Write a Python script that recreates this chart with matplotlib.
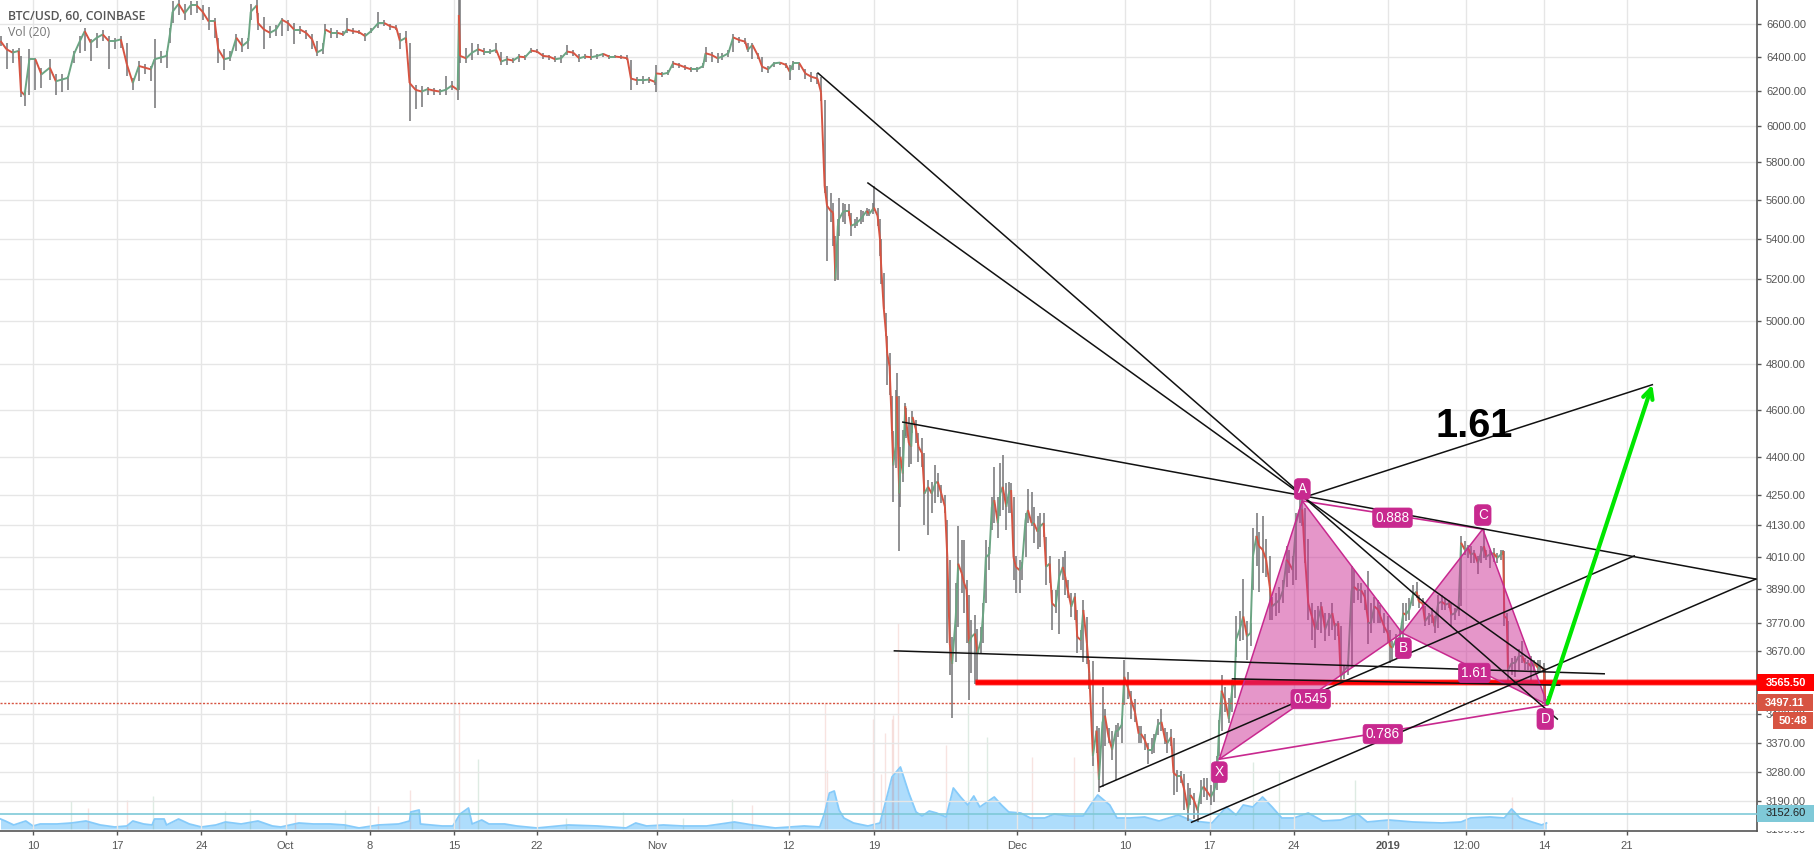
import numpy as np
import matplotlib
matplotlib.use("Agg")
import matplotlib.pyplot as plt
from matplotlib.collections import LineCollection
from matplotlib.patches import Rectangle
from matplotlib.transforms import Bbox
from matplotlib.ticker import NullLocator

W, H = 1814, 856
# ---------- price series: day offset from 10 Sep 2018, close, high, low ----------
days_sep = [-2.7,-2.2,-1.7,-1.2,-1.0,-0.7,-0.3,0.2,0.7,1.4,1.9,2.4,2.9,3.4,3.9,4.3,4.8,5.3,5.8,6.3,6.8,7.3,7.8,8.3,8.8,9.3,9.8,10.1,10.6,11.1,11.4,11.6,12.1,12.6,13.1,13.6,14.1,14.6,15.1,15.4,15.9,16.4,16.9,17.4,17.9,18.1,18.6,18.7,19.2,19.7,20.2,20.7,21.2,21.7,22.2,22.7,23.2,23.6,24.1,24.3,24.8,25.3,25.8,26.1,26.6,27.1,27.6,28.1,28.7,29.2,29.7,30.2,30.5,31.0,31.3,31.8,32.3,32.8,33.3,33.8,34.3,34.8,35.3,35.4,35.5]
close_sep = [6496,6446,6426,6436,6196,6176,6386,6386,6296,6336,6256,6266,6276,6416,6496,6556,6486,6516,6536,6496,6496,6506,6356,6246,6346,6336,6326,6386,6396,6406,6546,6676,6726,6666,6716,6716,6676,6616,6616,6446,6386,6396,6516,6466,6496,6676,6716,6606,6566,6546,6566,6626,6606,6566,6566,6546,6506,6426,6446,6566,6546,6546,6536,6566,6556,6550,6526,6556,6606,6606,6586,6576,6496,6516,6246,6206,6196,6210,6202,6196,6206,6230,6206,6656,6406]
high_sep = [6526,6486,6446,6456,6406,6196,6446,6396,6336,6386,6296,6296,6286,6436,6526,6576,6506,6546,6562,6526,6516,6526,6486,6276,6376,6356,6346,6510,6436,6436,6576,6746,6750,6726,6746,6746,6716,6706,6636,6516,6446,6436,6536,6516,6516,6726,6750,6666,6646,6586,6596,6636,6626,6606,6586,6566,6536,6496,6486,6600,6576,6566,6556,6636,6576,6566,6546,6576,6676,6626,6602,6596,6546,6556,6486,6236,6230,6222,6216,6210,6286,6256,6236,6750,6750]
low_sep = [6466,6326,6366,6386,6166,6110,6176,6206,6216,6266,6176,6196,6206,6366,6426,6436,6376,6456,6496,6326,6446,6456,6286,6206,6256,6296,6256,6102,6366,6336,6486,6606,6656,6626,6656,6666,6626,6566,6516,6366,6322,6376,6436,6430,6446,6626,6666,6566,6450,6516,6526,6526,6556,6476,6536,6506,6446,6406,6416,6536,6516,6516,6526,6546,6536,6536,6496,6546,6576,6586,6566,6566,6446,6486,6026,6096,6106,6176,6176,6176,6176,6206,6146,6206,6366]

days_oct = [36.0,36.5,37.0,37.5,38.0,38.5,38.9,39.4,39.9,40.4,40.9,41.4,41.9,42.4,42.9,43.4,43.9,44.4,44.9,45.4,45.9,46.4,46.9,47.4,47.9,48.4,48.9,49.4,49.7,50.2,50.7,51.2,51.7,51.8,52.3,52.8,53.2,53.7,54.2,54.7,55.2,55.7,55.9,56.4,56.9,57.3,57.8,58.2,58.7,59.2,59.4,59.8,60.3,60.6,61.1,61.6,62.1,62.6,62.9,63.2,63.7,64.2,64.7,65.2,65.5]
close_oct = [6392,6426,6446,6432,6432,6442,6372,6386,6378,6402,6398,6438,6432,6406,6402,6386,6392,6432,6426,6392,6402,6398,6406,6418,6402,6402,6398,6392,6272,6262,6262,6266,6252,6302,6298,6306,6362,6352,6338,6326,6326,6346,6422,6412,6392,6402,6422,6518,6502,6492,6442,6472,6402,6342,6326,6362,6366,6352,6312,6362,6362,6302,6282,6272,6192]
high_oct = [6452,6482,6478,6452,6446,6486,6432,6406,6392,6418,6412,6452,6446,6422,6412,6406,6412,6472,6442,6418,6418,6446,6418,6426,6414,6412,6410,6412,6382,6282,6286,6282,6266,6352,6312,6322,6378,6366,6352,6342,6342,6362,6458,6432,6422,6422,6442,6538,6522,6512,6486,6486,6422,6398,6346,6372,6372,6362,6352,6378,6372,6326,6312,6302,6282]
low_oct = [6362,6382,6412,6412,6418,6422,6352,6352,6362,6372,6382,6422,6422,6386,6382,6372,6362,6412,6406,6372,6386,6382,6386,6398,6390,6394,6386,6382,6206,6232,6242,6246,6232,6192,6282,6292,6332,6332,6322,6312,6312,6332,6372,6372,6366,6382,6402,6432,6486,6478,6432,6386,6386,6312,6302,6342,6352,6332,6266,6322,6322,6272,6252,6242,6142]

days_nov = [65.8,66.0,66.3,66.5,66.7,66.9,67.0,67.3,67.5,67.8,68.0,68.3,68.5,68.8,69.0,69.3,69.5,69.8,69.9,70.2,70.4,70.5,70.7,70.9,71.0,71.2,71.4,71.5,71.7,71.8,72.0,72.1,72.3,72.5,72.6,72.8,73.0,73.1,73.4]
close_nov = [5672,5568,5542,5533,5197,5465,5499,5533,5542,5542,5465,5473,5482,5499,5516,5542,5525,5550,5559,5516,5397,5263,5070,4944,4851,4790,4510,4368,4445,4659,4254,4403,4335,4616,4545,4460,4445,4570,4515]
high_nov = [6150,5672,5637,5585,5414,5499,5610,5585,5576,5576,5533,5499,5508,5547,5542,5559,5550,5585,5672,5559,5499,5397,5230,5038,4929,4851,4659,4510,4688,4761,4659,4445,4516,4630,4610,4570,4545,4595,4558]
low_nov = [5637,5288,5482,5363,5189,5197,5414,5482,5473,5516,5414,5456,5465,5473,5482,5516,5516,5525,5542,5465,5313,5173,5054,4929,4708,4667,4510,4220,4355,4587,4033,4202,4300,4490,4480,4360,4375,4500,4460]

days_late = [73.6,73.9,74.1,74.4,74.7,75.0,75.2,75.5,75.8,76.0,76.2,76.4,76.7,76.9,77.2,77.4,77.6,77.8,78.0,78.3,78.5,78.8,79.0,79.2,79.5,79.7,79.9,80.2,80.4,80.6,80.9,81.1,81.3,81.5,81.7,82.0,82.2,82.5,82.7,83.0,83.2,83.5,83.7,84.0,84.2,84.5,84.7,85.0,85.3,85.6,85.8,86.0,86.3,86.6,86.8,87.1,87.3,87.6,87.8]
close_late = [4445,4417,4254,4281,4254,4295,4302,4254,4202,4008,3698,3628,3790,3984,3948,3912,3888,3698,3720,3732,3663,3709,3815,4008,4020,4202,4228,4138,4254,4281,4202,4254,4268,4008,3972,3960,3972,4151,4189,4138,4138,4105,4125,4138,3972,3984,3839,3827,3936,3972,3936,3888,3827,3863,3720,3709,3815,3698,3595]
high_late = [4502,4480,4417,4308,4302,4369,4335,4288,4247,4151,3996,3720,3912,4125,4073,4073,3924,3870,3778,3797,3749,3755,3839,4073,4047,4241,4362,4241,4376,4410,4295,4302,4295,4241,4014,3996,3990,4177,4274,4261,4202,4164,4177,4177,4086,4014,3888,3888,4000,4008,4032,3924,3875,3875,3815,3744,3851,3791,3640]
low_late = [4382,4362,4131,4092,4176,4215,4241,4215,4176,3698,3589,3450,3634,3755,3875,3803,3698,3507,3595,3560,3572,3663,3698,3839,3960,4112,4138,4079,4164,4189,4112,4176,4176,3924,3875,3875,3924,4008,4138,4125,4060,4040,4047,4086,3906,3912,3744,3803,3732,3924,3870,3857,3791,3778,3663,3675,3635,3628,3543]

days_dec = [88.1,88.4,88.6,88.9,89.1,89.4,89.7,90.0,90.2,90.5,90.7,91.0,91.3,91.6,91.9,92.1,92.4,92.7,93.0,93.2,93.5,93.8,94.1,94.3,94.6,94.8,95.1,95.4,95.7,96.0,96.2,96.5,96.8,97.1,97.3,97.6,97.9,98.2,98.4,98.6,98.8,99.1,99.4,99.7,99.9,100.0,100.3,100.6,100.9,101.2,101.4,101.7,101.9,102.2,102.5,102.8,103.0,103.3,103.6,103.9,104.2,104.4,104.7,105.0,105.3,105.5,105.7,106.0,106.3,106.6,106.8,107.1,107.4,107.7,108.0,108.2,108.5,108.7,109.0,109.3,109.6,109.8,110.1,110.4,110.7,111.0,111.2,111.5,111.8,112.0,112.3,112.6]
close_dec = [3328,3408,3255,3436,3456,3388,3348,3408,3408,3427,3584,3549,3504,3467,3398,3398,3379,3348,3348,3369,3427,3436,3379,3369,3388,3276,3266,3266,3224,3163,3209,3193,3163,3224,3234,3219,3203,3224,3255,3427,3538,3504,3446,3549,3572,3711,3746,3792,3722,3734,4011,4089,4050,4037,3999,3899,3828,3839,3851,3886,3999,3986,3961,4140,4192,4192,4024,3839,3792,3746,3781,3828,3746,3781,3804,3757,3769,3584,3607,3619,3886,3899,3886,3886,3862,3769,3769,3828,3816,3792,3757,3734]
high_dec = [3636,3422,3417,3549,3478,3417,3408,3427,3432,3446,3642,3601,3538,3510,3422,3422,3398,3369,3384,3398,3446,3478,3417,3403,3413,3384,3286,3281,3271,3245,3229,3214,3173,3255,3260,3260,3240,3255,3328,3441,3589,3549,3515,3574,3578,3792,3810,3928,3775,3769,4120,4179,4102,4166,4076,4011,3862,3875,3899,3924,4050,4037,4011,4179,4231,4237,4198,4076,3839,3816,3828,3845,3804,3804,3839,3769,3775,3757,3619,3636,3974,3961,3911,3911,3886,3955,3839,3862,3851,3833,3804,3792]
low_dec = [3297,3338,3219,3234,3359,3369,3317,3255,3388,3369,3492,3510,3446,3436,3369,3369,3348,3302,3333,3338,3393,3408,3364,3338,3359,3209,3219,3245,3163,3133,3178,3138,3128,3183,3203,3193,3178,3188,3224,3328,3408,3467,3432,3467,3515,3652,3705,3711,3642,3688,3886,3974,3881,3949,3936,3781,3781,3792,3804,3839,3899,3949,3904,3924,4140,4127,3986,3781,3711,3682,3746,3734,3705,3722,3746,3711,3722,3572,3578,3590,3613,3839,3851,3839,3816,3694,3734,3769,3769,3769,3734,3699]

days_jan = [112.8,113.0,113.3,113.6,113.9,114.1,114.4,114.7,115.0,115.2,115.5,115.7,116.0,116.3,116.5,116.8,117.1,117.4,117.7,117.9,118.2,118.5,118.7,119.0,119.3,119.5,119.8,120.1,120.4,120.6,120.8,121.1,121.4,121.7,122.0,122.2,122.3,122.5,122.6,122.9,123.2,123.5,123.8,124.0,124.3,124.5,124.8,125.1,125.3,125.6,125.7,125.9]
close_jan = [3688,3683,3711,3717,3804,3798,3816,3869,3881,3845,3839,3775,3792,3798,3757,3839,3845,3834,3839,3798,3804,3828,4063,4037,4044,4018,4024,3986,4031,4050,4011,4018,4024,4005,4018,4031,3792,3786,3607,3630,3630,3654,3654,3630,3630,3619,3630,3613,3619,3607,3504,3509]
high_jan = [3746,3705,3729,3746,3839,3839,3857,3905,3917,3869,3857,3828,3804,3822,3792,3869,3869,3857,3851,3839,3822,3839,4089,4069,4056,4050,4037,4011,4050,4115,4037,4037,4044,4024,4037,4037,4031,3804,3775,3648,3654,3677,3705,3648,3642,3654,3642,3642,3642,3630,3613,3521]
low_jan = [3630,3642,3677,3688,3717,3775,3780,3828,3857,3822,3822,3757,3763,3769,3734,3752,3816,3816,3822,3757,3780,3792,3828,4018,4005,3986,3986,3946,3986,4005,3999,3968,3992,3986,3999,4018,3757,3763,3555,3589,3584,3607,3630,3607,3607,3555,3601,3601,3601,3504,3490,3492]

# ---------- volume moving average (arbitrary units) ----------
vol_days_a = [-2.7,-2.3,-1.6,-0.6,0,0.6,2.0,3.2,4.4,5.6,6.8,7.8,8.3,9.2,9.9,10.1,10.9,11.1,12.1,13.0,14.0,15.2,16.0,17.3,18.7,19.9,20.6,22.1,23.3,24.7,25.9,27.1,28.7,30.4,31.3,31.4,32.1,32.2,34.0,34.9,35.5,36.2,36.5,37.3,37.9,39.2,40.2,41.9,44.5,46.9,49.3,50.1,51.0,52.4,54.0,56.0,58.3,59.8,61.7,64.1]
vol_vals_a = [10,8,4,8,3,5,5,6,8,4,2,3,8,5,4,10,10,4,10,5,2,4,7,5,8,3,2,6,5,5,4,1,4,5,8,17,19,5,3,3,15,21,5,9,5,5,3,1,4,3,1,6,3,4,3,3,7,4,1,3]
vol_days_b = [65.4,65.8,66.2,66.6,67.0,67.4,68.2,69.4,70.4,70.8,71.4,72.1,72.8,73.4,73.9,74.5,75.1,75.9,76.5,77.1,77.7,78.2,78.7,79.3,79.9,80.5,81.1,82.1,82.9,84.1,84.9,86.1,87.3,87.9,88.5,89.5,90.1,91.2,92.4,93.6,95.2,96.4,98.0,99.2,100.0,100.6,101.4,102.2,103.0,103.8,104.8,106.0,107.2,108.7,110.1,110.9,112.7,114.7,117.1,118.7,119.5,121.1,122.3,122.9,123.6,124.6,125.4,125.8]
vol_vals_b = [2,16,36,38,19,11,6,3,6,24,52,62,36,17,13,18,16,12,41,32,24,33,22,27,32,24,17,16,11,11,15,13,13,24,34,24,11,11,12,8,14,8,6,22,14,24,22,32,22,11,11,16,8,9,15,7,9,7,6,7,11,12,11,20,11,7,4,6]
vol_up_days = [3.2,10.0,16.0,18.0,25.9,35.0,37.0,44.3,49.0,54.0,58.1,77.7,79.3,88.1,101.4,103.6,109.9]
vol_up_h = [28,33,18,20,19,129,70,11,17,11,30,124,92,72,67,59,49]
vol_dn_days = [4.6,7.8,21.8,28.7,31.3,35.4,59.8,65.8,66.0,69.8,70.5,70.8,71.4,71.5,71.9,75.9,83.0,86.5,122.9]
vol_dn_h = [21,29,16,23,39,126,24,126,59,110,55,96,110,114,206,84,72,72,32]

# ---------- axes values ----------
price_ticks = [6600,6400,6200,6000,5800,5600,5400,5200,5000,4800,4600,4400,4250,4130,4010,3890,3770,3670,3570,3460,3370,3280,3190]
hidden_price_labels = [3570]
date_pos = [0,7,14,21,28,35,41.9,51.9,62.8,69.9,81.8,90.8,97.8,104.8,112.6,119.1,125.6,132.5]
date_labels = ['10','17','24','Oct','8','15','22','Nov','12','19','Dec','10','17','24','2019','12:00','14','21']

# ---------- drawings ----------
trend_lines = [((65.25,6304),(105.7,4240)), ((69.4,5688),(105.7,4240)), ((72.3,4548),(143.2,3927)),
               ((105.7,4240),(134.6,4710)), ((71.6,3672),(130.6,3594)), ((99.7,3577),(126.9,3556)),
               ((88.7,3233),(133.1,4013)), ((96.3,3128),(143.2,3927)), ((105.6,4240),(125.6,3610)),
               ((105.6,4240),(126.7,3445))]
pat_x, pat_a, pat_b, pat_c, pat_d = (98.6,3318),(105.5,4225),(113.8,3734),(120.5,4115),(125.9,3491)
ratio_labels = [('0.888',113.0,4159),('0.545',106.2,3510),('0.786',112.2,3397),('1.61',119.8,3597)]
point_labels = [('A',105.5,4272),('C',120.5,4169),('B',113.9,3681),('X',98.6,3278),('D',125.7,3445)]

days = np.array(days_sep+days_oct+days_nov+days_late+days_dec+days_jan)
close = np.array(close_sep+close_oct+close_nov+close_late+close_dec+close_jan,float)
high = np.array(high_sep+high_oct+high_nov+high_late+high_dec+high_jan,float)
low = np.array(low_sep+low_oct+low_nov+low_late+low_dec+low_jan,float)

SANS = ['Liberation Sans','DejaVu Sans']
plt.rcParams['font.family'] = SANS
fig = plt.figure(figsize=(W/100,H/100),dpi=100,facecolor='white')
L,R,B,T = 0, 1757/W, 1-831/H, 1
axv = fig.add_axes([L,B,R-L,T-B],zorder=0)
ax = fig.add_axes([L,B,R-L,T-B],zorder=1)
ax.patch.set_alpha(0)

# volume pane
axv.set_xlim(-2.743,143.3); axv.set_ylim(-2,829)
axv.set_xticks([]); axv.set_yticks([])
for s in axv.spines.values(): s.set_visible(False)
vd = np.array(vol_days_a+vol_days_b); vv = np.array(vol_vals_a+vol_vals_b,float)
axv.vlines(vol_up_days,0,vol_up_h,color='#6ba583',alpha=.22,lw=1)
axv.vlines(vol_dn_days,0,vol_dn_h,color='#d75442',alpha=.16,lw=1)
axv.fill_between(vd,0,vv,color='#8fd0fb',alpha=.72,lw=0)
axv.plot(vd,vv,color='#86cbfa',lw=1.3)

# price pane
ax.set_yscale('log')
ax.set_xlim(-2.743,143.3); ax.set_ylim(3102.5,6750)
ax.yaxis.tick_right()
ax.set_yticks(price_ticks)
ax.set_yticklabels(['' if p in hidden_price_labels else f'{p:.2f}' for p in price_ticks],fontsize=8,color='#555555')
ax.yaxis.set_minor_locator(NullLocator())
ax.set_xticks(date_pos)
ax.set_xticklabels(date_labels,fontsize=8,color='#555555')
for t,l in zip(ax.get_xticklabels(),date_labels):
    if l=='2019': t.set_fontweight('bold')
ax.tick_params(axis='y',length=3,width=1,color='#555555',pad=3.5)
ax.tick_params(axis='x',length=3,width=1,color='#555555',pad=4.5)
ax.grid(True,color='#e6e6e6',lw=1)
ax.set_axisbelow(True)
for k in ['left','top']: ax.spines[k].set_visible(False)
for k in ['right','bottom']:
    ax.spines[k].set_color('#555555'); ax.spines[k].set_linewidth(1.2)
clip = Bbox([[1758,0],[W,H-831]])
t = ax.text(1766/1757,3106,'3106.00',transform=ax.get_yaxis_transform(),va='center',ha='left',fontsize=8,color='#555555')
t.set_clip_box(clip); t.set_clip_on(True)

# candles
ax.vlines(days,low,high,color='#737375',lw=1.1,zorder=2)
pts = np.column_stack([days,close]).reshape(-1,1,2)
segs = np.concatenate([pts[:-1],pts[1:]],axis=1)
cols = ['#6ba583' if c1>=c0 else '#d75442' for c0,c1 in zip(close[:-1],close[1:])]
ax.add_collection(LineCollection(segs,colors=cols,lw=1.4,zorder=2.2))

# horizontal levels
ax.axhline(3565.5,xmin=(78.3+2.743)/146.04,color='#ff0000',lw=3.4,zorder=3,solid_capstyle='butt')
ax.axhline(3565.5,xmin=(78.3+2.743)/146.04,color='#ff0000',lw=5,alpha=.35,zorder=3,solid_capstyle='butt')
ax.axhline(3497.11,color='#d75442',lw=1,ls=(0,(1.5,1.2)),zorder=3)
ax.axhline(3152.6,color='#7fc9d8',lw=1.2,zorder=3)

# harmonic pattern
PINK='#c8298f'
for tri in ([pat_x,pat_a,pat_b],[pat_b,pat_c,pat_d]):
    ax.fill(*zip(*tri),facecolor='#cc2e95',alpha=.5,edgecolor='none',zorder=3.1)
    ax.fill(*zip(*tri),facecolor='none',edgecolor=PINK,lw=1.1,zorder=3.2)
for a,b in ((pat_x,pat_d),(pat_a,pat_c)):
    ax.plot(*zip(a,b),color=PINK,lw=1.2,zorder=3.2)

# trend lines
for a,b in trend_lines:
    ax.plot(*zip(a,b),color='#111111',lw=1.1,zorder=3.5)

# green arrow
ax.annotate('',xy=(134.6,4710),xytext=(125.9,3497),zorder=4,
            arrowprops=dict(arrowstyle='->,head_length=0.7,head_width=0.35',color='#00e600',lw=3,shrinkA=0,shrinkB=0))
ax.text(119.8,4532,'1.61',fontsize=28.5,fontweight='bold',color='black',ha='center',va='center',zorder=4)

# pattern labels
for s,d,p in ratio_labels:
    ax.text(d,p,s,fontsize=9.8,color='white',ha='center',va='center',zorder=5,
            bbox=dict(boxstyle='round,pad=0.2,rounding_size=0.25',fc=PINK,ec=PINK,lw=.5))
for s,d,p in point_labels:
    ax.text(d,p,s,fontsize=9.8,color='white',ha='center',va='center',zorder=5,
            bbox=dict(boxstyle='round,pad=0.25,rounding_size=0.3',fc=PINK,ec=PINK,lw=.5))

# legend
ax.text(8/1757,1-17/831,'BTC/USD, 60, COINBASE',transform=ax.transAxes,fontsize=8.8,fontweight='semibold',
        family='Open Sans',color='#555555',va='center',ha='left',zorder=6)
ax.text(8/1757,1-33/831,'Vol (20)',transform=ax.transAxes,fontsize=8.8,family='Open Sans',color='#777777',va='center',ha='left',zorder=6)

# price-scale badges
def badge(x0,y0,x1,y1,color,text,tc):
    fig.add_artist(Rectangle((x0/W,1-y1/H),(x1-x0)/W,(y1-y0)/H,transform=fig.transFigure,fc=color,ec='none',zorder=8))
    fig.text((x0+x1)/2/W,1-(y0+y1)/2/H,text,color=tc,fontsize=8,fontweight='bold' if tc=='white' else 'normal',
             ha='center',va='center',zorder=9)
badge(1757,674,1814,691,'#ff0000','3565.50','white')
badge(1757,694,1813,711,'#d75442','3497.11','white')
badge(1773,712,1813,729,'#d75442','50:48','white')
badge(1757,805,1814,822,'#7fc9d8','3152.60','#222222')

fig.savefig('out.png',dpi=100)
